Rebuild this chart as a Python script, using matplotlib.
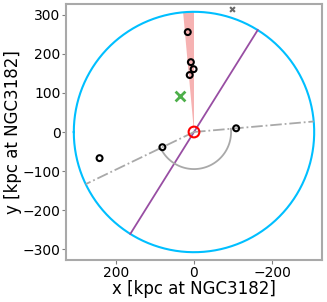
import numpy as np
import matplotlib
matplotlib.use("Agg")
import matplotlib.pyplot as plt

# satellites around NGC3182 (projected, kpc)
sat_x = [16, 8, 1, 11, -108, 81, 242]
sat_y = [256, 179, 161, 146, 9.5, -39, -67]

green_x, green_y = [36], [91.5]
grey_x, grey_y = [-98], [314]

r_vir = 308.0           # radius of blue circle
wedge_deg = [84.8, 90]  # red wedge angles
axis_deg = 122.0        # purple line angle
plane_pts = [(-108, 9.5), (81, -39)]  # grey dash-dot lines go through these
arc_r = 95.0

fig = plt.figure(figsize=(3.27, 3.02), dpi=100)
ax = fig.add_axes([66/327, 42/302, 256/327, 256/302])

th = np.linspace(0, 2*np.pi, 400)
ax.plot(r_vir*np.cos(th), r_vir*np.sin(th), color="deepskyblue", lw=1.5, zorder=2)

# red wedge
w = np.radians(np.linspace(wedge_deg[0], wedge_deg[1], 20))
wx = np.concatenate([[0], r_vir*np.cos(w), [0]])
wy = np.concatenate([[0], r_vir*np.sin(w), [0]])
ax.fill(wx, wy, color="lightcoral", alpha=0.6, lw=0, zorder=1)

# purple line
a = np.radians(axis_deg)
ax.plot([-r_vir*np.cos(a), r_vir*np.cos(a)], [-r_vir*np.sin(a), r_vir*np.sin(a)],
        color="#984ea3", lw=1.3, zorder=3)

# grey dash-dot lines and the arc between them
angs = []
for px, py in plane_pts:
    t = np.arctan2(py, px)
    angs.append(t)
    ax.plot([0, r_vir*np.cos(t)], [0, r_vir*np.sin(t)], color="darkgrey",
            ls="-.", lw=1.3, zorder=3)
t1 = angs[0]
t2 = angs[1] + 2*np.pi
ta = np.linspace(t1, t2, 100)
ax.plot(arc_r*np.cos(ta), arc_r*np.sin(ta), color="darkgrey", lw=1.3, zorder=3)

ax.scatter(sat_x, sat_y, s=18, facecolors="none", edgecolors="black", linewidths=1.5, zorder=5)
ax.scatter([0], [0], s=60, facecolors="none", edgecolors="red", linewidths=1.5, zorder=6)
ax.scatter(green_x, green_y, marker="x", s=50, color="#4daf4a", linewidths=2, zorder=5)
ax.scatter(grey_x, grey_y, marker="x", s=12, color="dimgrey", linewidths=1.5, zorder=5)

ax.set_xlim(328, -328)
ax.set_ylim(-328, 328)
ax.set_xticks([200, 0, -200])
ax.set_yticks([-300, -200, -100, 0, 100, 200, 300])
ax.set_xlabel("x [kpc at NGC3182]", fontsize=12, labelpad=0)
ax.set_ylabel("y [kpc at NGC3182]", fontsize=12, labelpad=0)
ax.tick_params(labelsize=10, length=3, color="grey", pad=1)
for s in ax.spines.values():
    s.set_color("darkgrey")
    s.set_linewidth(1.5)

fig.savefig("out.png", dpi=100)
